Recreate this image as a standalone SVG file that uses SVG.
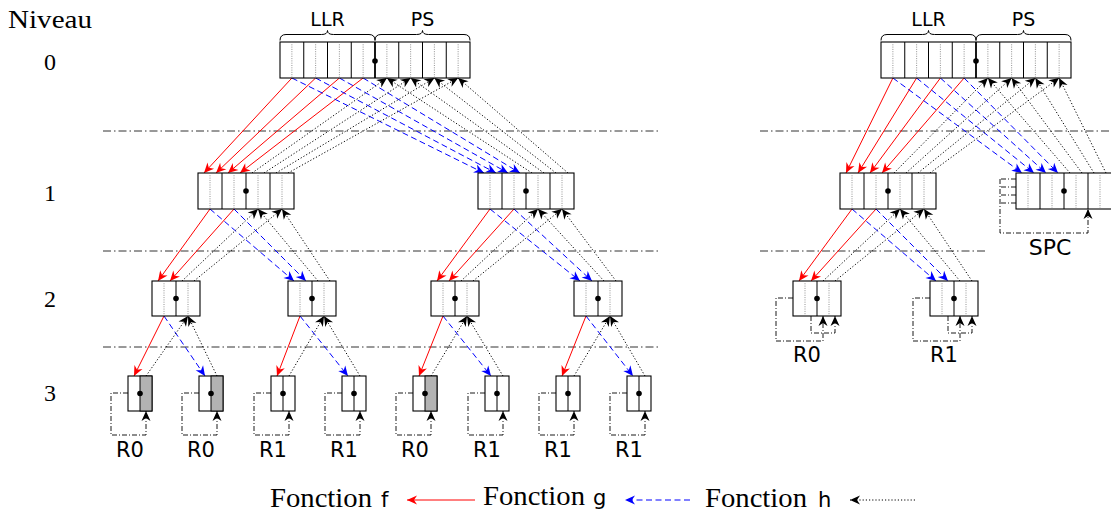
<svg xmlns="http://www.w3.org/2000/svg" xmlns:xlink="http://www.w3.org/1999/xlink" width="1111" height="514" viewBox="0 0 1111 514">
<style>
.bx{fill:#fff;stroke:#000;stroke-width:1.1}
.dv{stroke:#000;stroke-width:1}
.mid{stroke:#777;stroke-width:0.8;stroke-dasharray:1 1.3}
.f{stroke:#f00;stroke-width:1;fill:none;marker-end:url(#ar)}
.g{stroke:#00f;stroke-width:1;fill:none;stroke-dasharray:6 3.5;marker-end:url(#ab)}
.h{stroke:#000;stroke-width:1;fill:none;stroke-dasharray:1.2 2;marker-end:url(#ak)}
.lp{stroke:#000;stroke-width:0.9;fill:none;stroke-dasharray:5 2 1 2}
.lpa{stroke:#000;stroke-width:0.9;fill:none;stroke-dasharray:5 2 1 2;marker-end:url(#ak)}
.sep{stroke:#333;stroke-width:1;stroke-dasharray:8 3 1.5 3}
.serif{font-family:"Liberation Serif",serif;fill:#000}
.sans{font-family:"DejaVu Sans",sans-serif;fill:#000}
</style>
<defs>
<marker id="ar" viewBox="-11 -6 12 12" refX="0" refY="0" markerWidth="12" markerHeight="12" orient="auto" markerUnits="userSpaceOnUse"><path d="M0,0 L-10,-4.5 L-7,0 L-10,4.5 Z" fill="#f00"/></marker>
<marker id="ab" viewBox="-11 -6 12 12" refX="0" refY="0" markerWidth="12" markerHeight="12" orient="auto" markerUnits="userSpaceOnUse"><path d="M0,0 L-10,-4.5 L-7,0 L-10,4.5 Z" fill="#00f"/></marker>
<marker id="ak" viewBox="-11 -6 12 12" refX="0" refY="0" markerWidth="12" markerHeight="12" orient="auto" markerUnits="userSpaceOnUse"><path d="M0,0 L-10,-4.5 L-7,0 L-10,4.5 Z" fill="#000"/></marker>
<g id="b0">
<rect class="bx" x="0" y="0" width="190" height="36"/>
<path class="dv" d="M23.75,0V36M47.5,0V36M71.25,0V36M118.75,0V36M142.5,0V36M166.25,0V36"/>
<path class="mid" d="M11.875,0V36M35.625,0V36M59.375,0V36M83.125,0V36M106.875,0V36M130.625,0V36M154.375,0V36M178.125,0V36"/>
<path d="M95,0V36" stroke="#000" stroke-width="1.8"/>
<circle cx="95" cy="19" r="2.8"/>
<path d="M0,-1.5 Q0,-7.5 6,-7.5 L41.5,-7.5 Q47.5,-7.5 47.5,-11.5 Q47.5,-7.5 53.5,-7.5 L89,-7.5 Q95,-7.5 95,-1.5 M95,-1.5 Q95,-7.5 101,-7.5 L136.5,-7.5 Q142.5,-7.5 142.5,-11.5 Q142.5,-7.5 148.5,-7.5 L184,-7.5 Q190,-7.5 190,-1.5" fill="none" stroke="#000" stroke-width="1"/>
<text class="sans" x="47.5" y="-16" font-size="19" text-anchor="middle">LLR</text>
<text class="sans" x="142.5" y="-16" font-size="19" text-anchor="middle">PS</text>
</g>
<g id="b1">
<rect class="bx" x="0" y="0" width="96" height="36"/>
<path class="dv" d="M24,0V36M48,0V36M72,0V36"/>
<path class="mid" d="M12,0V36M36,0V36M60,0V36M84,0V36"/>
<circle cx="48" cy="18" r="2.8"/>
</g>
<g id="b2">
<rect class="bx" x="0" y="0" width="48" height="35"/>
<path class="dv" d="M24,0V35"/>
<path class="mid" d="M12,0V35M36,0V35"/>
<circle cx="24" cy="17.5" r="2.8"/>
</g>
<g id="b3">
<rect class="bx" x="0" y="0" width="24" height="35"/>
<path class="dv" d="M12,0V35"/>
<circle cx="12" cy="17.5" r="2.8"/>
</g>
<g id="b3g">
<rect class="bx" x="0" y="0" width="24" height="35"/>
<rect x="12" y="0" width="12" height="35" fill="#b3b3b3" stroke="#000" stroke-width="1"/>
<circle cx="12" cy="17.5" r="2.8"/>
</g>
</defs>

<g id="levels">
<text class="serif" x="8" y="28" font-size="26" textLength="84" lengthAdjust="spacingAndGlyphs">Niveau</text>
<text class="serif" x="50" y="70" font-size="24" text-anchor="middle">0</text>
<text class="serif" x="50" y="201" font-size="24" text-anchor="middle">1</text>
<text class="serif" x="50" y="307" font-size="24" text-anchor="middle">2</text>
<text class="serif" x="50" y="401" font-size="24" text-anchor="middle">3</text>
</g>

<g id="separators">
<line class="sep" x1="103" y1="131" x2="660" y2="131"/>
<line class="sep" x1="103" y1="251" x2="660" y2="251"/>
<line class="sep" x1="103" y1="347" x2="660" y2="347"/>
<line class="sep" x1="760" y1="131" x2="1111" y2="131"/>
<line class="sep" x1="760" y1="251" x2="988" y2="251"/>
</g>

<g id="connectors">
<line class="f" x1="291.9" y1="78" x2="204" y2="173"/>
<line class="f" x1="315.6" y1="78" x2="216" y2="173"/>
<line class="f" x1="339.4" y1="78" x2="228" y2="173"/>
<line class="f" x1="363.1" y1="78" x2="240" y2="173"/>
<line class="g" x1="291.9" y1="78" x2="484" y2="173"/>
<line class="g" x1="315.6" y1="78" x2="496" y2="173"/>
<line class="g" x1="339.4" y1="78" x2="508" y2="173"/>
<line class="g" x1="363.1" y1="78" x2="520" y2="173"/>
<line class="h" x1="252" y1="173" x2="386.9" y2="78"/>
<line class="h" x1="264" y1="173" x2="410.6" y2="78"/>
<line class="h" x1="276" y1="173" x2="434.4" y2="78"/>
<line class="h" x1="288" y1="173" x2="458.1" y2="78"/>
<line class="h" x1="532" y1="173" x2="386.9" y2="78"/>
<line class="h" x1="544" y1="173" x2="410.6" y2="78"/>
<line class="h" x1="556" y1="173" x2="434.4" y2="78"/>
<line class="h" x1="568" y1="173" x2="458.1" y2="78"/>
<line class="f" x1="892.9" y1="78" x2="846" y2="173"/>
<line class="f" x1="916.6" y1="78" x2="858" y2="173"/>
<line class="f" x1="940.4" y1="78" x2="870" y2="173"/>
<line class="f" x1="964.1" y1="78" x2="882" y2="173"/>
<line class="g" x1="892.9" y1="78" x2="1022" y2="173"/>
<line class="g" x1="916.6" y1="78" x2="1034" y2="173"/>
<line class="g" x1="940.4" y1="78" x2="1046" y2="173"/>
<line class="g" x1="964.1" y1="78" x2="1058" y2="173"/>
<line class="h" x1="894" y1="173" x2="987.9" y2="78"/>
<line class="h" x1="906" y1="173" x2="1011.6" y2="78"/>
<line class="h" x1="918" y1="173" x2="1035.4" y2="78"/>
<line class="h" x1="930" y1="173" x2="1059.1" y2="78"/>
<line class="h" x1="1070" y1="173" x2="987.9" y2="78"/>
<line class="h" x1="1082" y1="173" x2="1011.6" y2="78"/>
<line class="h" x1="1094" y1="173" x2="1035.4" y2="78"/>
<line class="h" x1="1106" y1="173" x2="1059.1" y2="78"/>
<line class="f" x1="210" y1="209" x2="158" y2="281"/>
<line class="f" x1="234" y1="209" x2="170" y2="281"/>
<line class="g" x1="210" y1="209" x2="294" y2="281"/>
<line class="g" x1="234" y1="209" x2="306" y2="281"/>
<line class="h" x1="182" y1="281" x2="258" y2="209"/>
<line class="h" x1="194" y1="281" x2="282" y2="209"/>
<line class="h" x1="318" y1="281" x2="258" y2="209"/>
<line class="h" x1="330" y1="281" x2="282" y2="209"/>
<line class="f" x1="490" y1="209" x2="437" y2="281"/>
<line class="f" x1="514" y1="209" x2="449" y2="281"/>
<line class="g" x1="490" y1="209" x2="580" y2="281"/>
<line class="g" x1="514" y1="209" x2="592" y2="281"/>
<line class="h" x1="461" y1="281" x2="538" y2="209"/>
<line class="h" x1="473" y1="281" x2="562" y2="209"/>
<line class="h" x1="604" y1="281" x2="538" y2="209"/>
<line class="h" x1="616" y1="281" x2="562" y2="209"/>
<line class="f" x1="852" y1="209" x2="799" y2="281"/>
<line class="f" x1="876" y1="209" x2="811" y2="281"/>
<line class="g" x1="852" y1="209" x2="936" y2="281"/>
<line class="g" x1="876" y1="209" x2="948" y2="281"/>
<line class="h" x1="823" y1="281" x2="900" y2="209"/>
<line class="h" x1="835" y1="281" x2="924" y2="209"/>
<line class="h" x1="960" y1="281" x2="900" y2="209"/>
<line class="h" x1="972" y1="281" x2="924" y2="209"/>
<line class="f" x1="164" y1="316" x2="134" y2="376"/>
<line class="g" x1="164" y1="316" x2="205" y2="376"/>
<line class="h" x1="146" y1="376" x2="188" y2="316"/>
<line class="h" x1="217" y1="376" x2="188" y2="316"/>
<line class="f" x1="300" y1="316" x2="277" y2="376"/>
<line class="g" x1="300" y1="316" x2="348" y2="376"/>
<line class="h" x1="289" y1="376" x2="324" y2="316"/>
<line class="h" x1="360" y1="376" x2="324" y2="316"/>
<line class="f" x1="443" y1="316" x2="419" y2="376"/>
<line class="g" x1="443" y1="316" x2="491" y2="376"/>
<line class="h" x1="431" y1="376" x2="467" y2="316"/>
<line class="h" x1="503" y1="376" x2="467" y2="316"/>
<line class="f" x1="586" y1="316" x2="562" y2="376"/>
<line class="g" x1="586" y1="316" x2="633" y2="376"/>
<line class="h" x1="574" y1="376" x2="610" y2="316"/>
<line class="h" x1="645" y1="376" x2="610" y2="316"/>
<path class="lpa" d="M128,393 H111 V435 H146 V411"/>
<path class="lpa" d="M199,393 H182 V435 H217 V411"/>
<path class="lpa" d="M271,393 H254 V435 H289 V411"/>
<path class="lpa" d="M342,393 H325 V435 H360 V411"/>
<path class="lpa" d="M413,393 H396 V435 H431 V411"/>
<path class="lpa" d="M485,393 H468 V435 H503 V411"/>
<path class="lpa" d="M556,393 H539 V435 H574 V411"/>
<path class="lpa" d="M627,393 H610 V435 H645 V411"/>
<path class="lpa" d="M793,298 H776 V341 H823 V316"/>
<path class="lpa" d="M811,316 V333 H835 V316"/>
<path class="lpa" d="M930,298 H913 V341 H960 V316"/>
<path class="lpa" d="M948,316 V333 H972 V316"/>
<path class="lp" d="M1016,179 H1000 M1016,187 H1000 M1016,195 H1000 M1016,203 H1000"/>
<path class="lpa" d="M1000,179 V233 H1088 V209"/>
<line class="f" x1="475" y1="500" x2="407" y2="500"/>
<line class="g" x1="690" y1="500" x2="625" y2="500"/>
<line class="h" x1="915" y1="500" x2="850" y2="500"/>
</g>

<g id="node-L0-left"><use xlink:href="#b0" x="280" y="42"/></g>
<g id="node-L0-right"><use xlink:href="#b0" x="881" y="42"/></g>
<g id="node-L1-a"><use xlink:href="#b1" x="198" y="173"/></g>
<g id="node-L1-b"><use xlink:href="#b1" x="478" y="173"/></g>
<g id="node-L1-c"><use xlink:href="#b1" x="840" y="173"/></g>
<g id="node-SPC"><use xlink:href="#b1" x="1016" y="173"/>
<text class="sans" x="1050" y="255" font-size="22" text-anchor="middle">SPC</text></g>
<g id="node-L2-a"><use xlink:href="#b2" x="152" y="281"/></g>
<g id="node-L2-b"><use xlink:href="#b2" x="288" y="281"/></g>
<g id="node-L2-c"><use xlink:href="#b2" x="431" y="281"/></g>
<g id="node-L2-d"><use xlink:href="#b2" x="574" y="281"/></g>
<g id="node-L2-e"><use xlink:href="#b2" x="793" y="281"/>
<text class="sans" x="807" y="362" font-size="21" text-anchor="middle">R0</text></g>
<g id="node-L2-f"><use xlink:href="#b2" x="930" y="281"/>
<text class="sans" x="944" y="362" font-size="21" text-anchor="middle">R1</text></g>
<g id="node-L3-1"><use xlink:href="#b3g" x="128" y="376"/><text class="sans" x="130" y="457" font-size="21" text-anchor="middle">R0</text></g>
<g id="node-L3-2"><use xlink:href="#b3g" x="199" y="376"/><text class="sans" x="201" y="457" font-size="21" text-anchor="middle">R0</text></g>
<g id="node-L3-3"><use xlink:href="#b3" x="271" y="376"/><text class="sans" x="273" y="457" font-size="21" text-anchor="middle">R1</text></g>
<g id="node-L3-4"><use xlink:href="#b3" x="342" y="376"/><text class="sans" x="344" y="457" font-size="21" text-anchor="middle">R1</text></g>
<g id="node-L3-5"><use xlink:href="#b3g" x="413" y="376"/><text class="sans" x="415" y="457" font-size="21" text-anchor="middle">R0</text></g>
<g id="node-L3-6"><use xlink:href="#b3" x="485" y="376"/><text class="sans" x="487" y="457" font-size="21" text-anchor="middle">R1</text></g>
<g id="node-L3-7"><use xlink:href="#b3" x="556" y="376"/><text class="sans" x="558" y="457" font-size="21" text-anchor="middle">R1</text></g>
<g id="node-L3-8"><use xlink:href="#b3" x="627" y="376"/><text class="sans" x="629" y="457" font-size="21" text-anchor="middle">R1</text></g>

<g id="legend">
<text class="serif" x="270" y="507" font-size="27" textLength="102" lengthAdjust="spacingAndGlyphs">Fonction</text>
<text class="sans" x="381" y="507" font-size="21">f</text>
<text class="serif" x="483" y="505" font-size="27" textLength="102" lengthAdjust="spacingAndGlyphs">Fonction</text>
<text class="sans" x="593" y="505" font-size="21">g</text>
<text class="serif" x="705" y="507" font-size="27" textLength="102" lengthAdjust="spacingAndGlyphs">Fonction</text>
<text class="sans" x="818" y="507" font-size="21">h</text>
</g>
</svg>
